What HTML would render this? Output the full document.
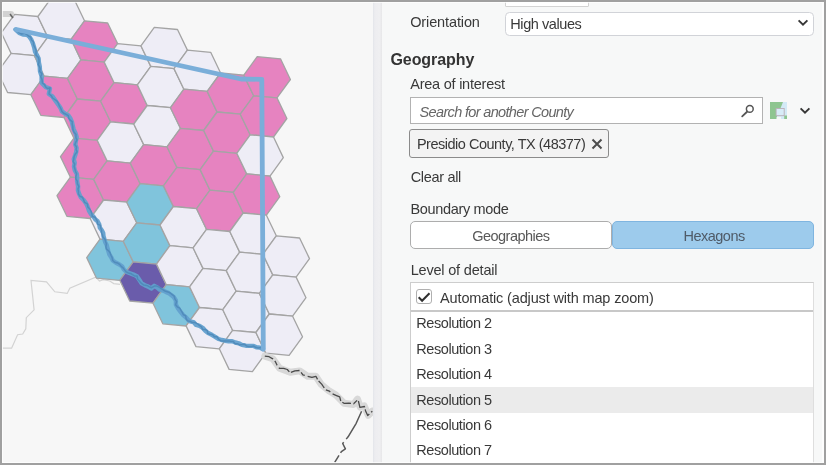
<!DOCTYPE html>
<html><head><meta charset="utf-8"><title>Geography</title>
<style>
html,body{margin:0;padding:0;}
body{width:826px;height:465px;overflow:hidden;position:relative;background:#f7f7f7;font-family:"Liberation Sans",sans-serif;font-size:14.5px;color:#393939;}
#root{position:absolute;left:0;top:0;width:826px;height:465px;overflow:hidden;filter:blur(0.45px);}
.abs{position:absolute;}
.t{position:absolute;white-space:nowrap;line-height:16px;}
#map{position:absolute;left:0;top:0;width:373px;height:465px;overflow:hidden;background:#f7f7f7;}
#div{position:absolute;left:373px;top:0;width:8.8px;height:465px;background:linear-gradient(to right,#e3e5ea 0,#ededf0 22%,#efeff1 72%,#e7e7e9 100%);box-sizing:border-box;}
#panel{position:absolute;left:382px;top:0;width:444px;height:465px;background:#f7f8f8;}
#inner{position:absolute;left:2px;top:2px;width:822px;height:461px;box-sizing:border-box;border:1px solid rgba(255,255,255,0.75);border-right-width:2px;}
#frame{position:absolute;left:0;top:0;width:826px;height:465px;box-sizing:border-box;border:2px solid #a0a0a0;pointer-events:none;}
.box{position:absolute;box-sizing:border-box;background:#fff;border:1px solid #c6c6c6;}
</style></head><body>
<div id="root">
<div id="map">
<svg width="373" height="465" viewBox="0 0 373 465" style="position:absolute;left:0;top:0">
<polyline points="2.6,348.2 11.6,348.2 17.6,334.7 22.7,334.0 25.8,328.8 26.3,317.7 34.1,309.9 31.0,280.5 46.5,281.8 54.8,291.8 67.2,293.4 69.8,288.2 95.6,277.1 99.5,281.0 103.3,279.7 109.8,281.0 113.7,283.6 120.1,284.4" fill="none" stroke="#d3d3d3" stroke-width="1.2"/>
<g stroke="#a4a4a4" stroke-width="1.3" stroke-linejoin="round">
<polygon points="34.4,55.6 11.1,53.4 1.3,32.8 14.6,14.3 37.9,16.5 47.8,37.1" fill="#eeedf6"/>
<polygon points="30.9,94.7 7.6,92.5 -2.3,71.9 11.1,53.4 34.4,55.6 44.3,76.2" fill="#eeedf6"/>
<polygon points="71.1,39.3 47.8,37.1 37.9,16.5 51.3,-2.0 74.6,0.2 84.5,20.8" fill="#eeedf6"/>
<polygon points="67.5,78.4 44.3,76.2 34.4,55.6 47.8,37.1 71.1,39.3 80.9,59.9" fill="#eeedf6"/>
<polygon points="64.0,117.5 40.8,115.3 30.9,94.7 44.3,76.2 67.5,78.4 77.4,99.0" fill="#e683c0"/>
<polygon points="104.2,62.1 80.9,59.9 71.1,39.3 84.5,20.8 107.7,23.0 117.6,43.6" fill="#e683c0"/>
<polygon points="100.7,101.2 77.4,99.0 67.5,78.4 80.9,59.9 104.2,62.1 114.1,82.7" fill="#e683c0"/>
<polygon points="97.2,140.3 73.9,138.1 64.0,117.5 77.4,99.0 100.7,101.2 110.6,121.8" fill="#e683c0"/>
<polygon points="93.7,179.4 70.4,177.2 60.5,156.6 73.9,138.1 97.2,140.3 107.1,160.9" fill="#e683c0"/>
<polygon points="90.2,218.5 66.9,216.3 57.0,195.7 70.4,177.2 93.7,179.4 103.6,200.0" fill="#e683c0"/>
<polygon points="137.4,84.9 114.1,82.7 104.2,62.1 117.6,43.6 140.9,45.8 150.8,66.4" fill="#eeedf6"/>
<polygon points="133.8,124.0 110.6,121.8 100.7,101.2 114.1,82.7 137.4,84.9 147.2,105.5" fill="#e683c0"/>
<polygon points="130.3,163.1 107.1,160.9 97.2,140.3 110.6,121.8 133.8,124.0 143.7,144.6" fill="#eeedf6"/>
<polygon points="126.8,202.2 103.6,200.0 93.7,179.4 107.1,160.9 130.3,163.1 140.2,183.7" fill="#e683c0"/>
<polygon points="123.3,241.3 100.0,239.1 90.2,218.5 103.6,200.0 126.8,202.2 136.7,222.8" fill="#eeedf6"/>
<polygon points="119.8,280.4 96.5,278.2 86.7,257.6 100.0,239.1 123.3,241.3 133.2,261.9" fill="#80c4dc"/>
<polygon points="174.0,68.6 150.8,66.4 140.9,45.8 154.3,27.3 177.5,29.5 187.4,50.1" fill="#eeedf6"/>
<polygon points="170.5,107.7 147.2,105.5 137.4,84.9 150.8,66.4 174.0,68.6 183.9,89.2" fill="#eeedf6"/>
<polygon points="167.0,146.8 143.7,144.6 133.8,124.0 147.2,105.5 170.5,107.7 180.4,128.3" fill="#eeedf6"/>
<polygon points="163.5,185.9 140.2,183.7 130.3,163.1 143.7,144.6 167.0,146.8 176.9,167.4" fill="#e683c0"/>
<polygon points="160.0,225.0 136.7,222.8 126.8,202.2 140.2,183.7 163.5,185.9 173.4,206.5" fill="#80c4dc"/>
<polygon points="156.5,264.1 133.2,261.9 123.3,241.3 136.7,222.8 160.0,225.0 169.9,245.6" fill="#80c4dc"/>
<polygon points="153.0,303.1 129.7,301.0 119.8,280.3 133.2,261.9 156.5,264.1 166.3,284.7" fill="#6a5cab"/>
<polygon points="207.2,91.4 183.9,89.2 174.0,68.6 187.4,50.2 210.7,52.3 220.6,73.0" fill="#eeedf6"/>
<polygon points="203.7,130.5 180.4,128.3 170.5,107.7 183.9,89.2 207.2,91.4 217.0,112.0" fill="#e683c0"/>
<polygon points="200.1,169.6 176.9,167.4 167.0,146.8 180.4,128.3 203.7,130.5 213.5,151.1" fill="#e683c0"/>
<polygon points="196.6,208.7 173.4,206.5 163.5,185.9 176.9,167.4 200.1,169.6 210.0,190.2" fill="#e683c0"/>
<polygon points="193.1,247.8 169.9,245.6 160.0,225.0 173.4,206.5 196.6,208.7 206.5,229.3" fill="#eeedf6"/>
<polygon points="189.6,286.9 166.3,284.7 156.5,264.1 169.9,245.6 193.1,247.8 203.0,268.4" fill="#eeedf6"/>
<polygon points="186.1,326.0 162.8,323.8 153.0,303.2 166.3,284.7 189.6,286.9 199.5,307.5" fill="#80c4dc"/>
<polygon points="240.3,114.2 217.1,112.0 207.2,91.4 220.6,73.0 243.8,75.1 253.7,95.8" fill="#e683c0"/>
<polygon points="236.8,153.3 213.5,151.1 203.7,130.5 217.1,112.0 240.3,114.2 250.2,134.8" fill="#e683c0"/>
<polygon points="233.3,192.4 210.0,190.2 200.2,169.6 213.5,151.1 236.8,153.3 246.7,173.9" fill="#e683c0"/>
<polygon points="229.8,231.5 206.5,229.3 196.6,208.7 210.0,190.2 233.3,192.4 243.2,213.0" fill="#e683c0"/>
<polygon points="226.3,270.6 203.0,268.4 193.1,247.8 206.5,229.3 229.8,231.5 239.7,252.1" fill="#eeedf6"/>
<polygon points="222.8,309.7 199.5,307.5 189.6,286.9 203.0,268.4 226.3,270.6 236.2,291.2" fill="#eeedf6"/>
<polygon points="219.3,348.8 196.0,346.6 186.1,325.9 199.5,307.5 222.8,309.7 232.7,330.3" fill="#eeedf6"/>
<polygon points="277.0,97.9 253.7,95.8 243.8,75.1 257.2,56.7 280.5,58.8 290.4,79.5" fill="#e683c0"/>
<polygon points="273.5,137.0 250.2,134.8 240.3,114.2 253.7,95.8 277.0,97.9 286.9,118.5" fill="#e683c0"/>
<polygon points="270.0,176.1 246.7,173.9 236.8,153.3 250.2,134.8 273.5,137.0 283.3,157.6" fill="#eeedf6"/>
<polygon points="266.4,215.2 243.2,213.0 233.3,192.4 246.7,173.9 270.0,176.1 279.8,196.7" fill="#e683c0"/>
<polygon points="262.9,254.3 239.7,252.1 229.8,231.5 243.2,213.0 266.4,215.2 276.3,235.8" fill="#eeedf6"/>
<polygon points="259.4,293.4 236.2,291.2 226.3,270.6 239.7,252.1 262.9,254.3 272.8,274.9" fill="#eeedf6"/>
<polygon points="255.9,332.5 232.6,330.3 222.8,309.7 236.2,291.2 259.4,293.4 269.3,314.0" fill="#eeedf6"/>
<polygon points="252.4,371.6 229.1,369.4 219.3,348.8 232.6,330.3 255.9,332.5 265.8,353.1" fill="#eeedf6"/>
<polygon points="296.1,277.1 272.8,274.9 262.9,254.3 276.3,235.8 299.6,238.0 309.5,258.6" fill="#eeedf6"/>
<polygon points="292.6,316.2 269.3,314.0 259.4,293.4 272.8,274.9 296.1,277.1 306.0,297.7" fill="#eeedf6"/>
<polygon points="289.1,355.3 265.8,353.1 255.9,332.5 269.3,314.0 292.6,316.2 302.5,336.8" fill="#eeedf6"/>
</g>
<polyline points="2,14 11,14" fill="none" stroke="#d2d2d2" stroke-width="6" stroke-linecap="round"/>
<polyline points="10,14 13,18" fill="none" stroke="#666" stroke-width="1.5"/>
<polyline points="264.8,356.1 272.8,358.8 279.6,368.2 290.3,372.3 299.7,370.9 307.8,376.3 315.9,376.3 321.2,384.4 329.3,391.1 336.0,395.1 344.1,403.2 353.5,404.5 357.5,399.1 360.2,407.2 364.2,405.9 368.3,415.3 372.3,411.2" fill="none" stroke="#d8d8d8" stroke-width="7" stroke-linejoin="round" stroke-linecap="round"/>
<polyline points="264.8,356.1 269.1,356.7 272.8,358.9 275.4,361.7 277.1,365.3 279.4,368.3 283.7,368.3 287.3,369.5 290.1,372.8 294.9,370.8 299.6,370.5 302.9,374.9 307.8,376.3 311.9,377.4 315.9,376.3 318.2,380.6 321.7,384.1 323.6,387.0 325.8,389.8 329.3,391.1 332.3,393.8 335.9,395.3 339.7,396.8 340.8,401.1 344.0,403.3 348.9,403.2 353.6,403.8 358.0,399.4 358.9,403.1 359.9,407.3 364.4,406.5 365.6,410.9 367.7,415.6 372.3,411.2" fill="none" stroke="#4a4a4a" stroke-width="1.3" stroke-linejoin="round" stroke-dasharray="9 2.5 5 3 12 2"/>
<polyline points="361.6,411.2 356.2,423.3 348.1,436.8 342.7,443.5 345.4,448.9 341.4,451.6 334.7,462.3" fill="none" stroke="#585858" stroke-width="1.5" stroke-linejoin="round" stroke-dasharray="32 4 14 3"/>
<polyline points="15.4,29.5 19.2,33.0 22.9,34.5 27.0,34.8 29.5,36.9 31.4,39.7 33.0,43.7 34.3,47.8 35.0,51.6 36.9,55.0 38.6,58.5 38.9,62.5 39.8,66.8 40.0,71.2 41.6,76.4 41.6,79.7 41.7,83.0 45.8,87.2 49.9,88.6 48.8,94.0 52.4,96.4 54.7,99.6 56.9,102.8 59.2,106.0 60.8,108.5 61.9,111.4 65.0,113.6 68.4,115.5 70.5,118.6 71.9,121.8 72.7,125.4 73.6,129.1 75.4,133.0 76.7,137.2 75.9,141.0 75.3,144.6 76.6,148.1 76.2,152.0 75.1,155.5 73.8,159.2 74.7,162.8 74.0,166.5 74.8,170.4 76.8,173.8 77.2,177.5 77.1,181.2 78.1,186.5 77.9,190.2 79.1,193.8 80.7,197.1 83.3,199.7 85.9,203.1 87.7,206.9 89.0,210.9 91.1,214.3 93.4,216.6 95.2,219.2 97.6,221.2 99.2,224.2 99.8,227.6 101.8,230.3 103.2,233.0 103.5,236.2 104.4,239.2 105.2,242.2 106.7,245.0 107.5,248.0 108.3,251.0 109.3,254.4 111.2,257.3 112.8,260.5 116.0,262.7 119.4,264.5 122.2,266.5 123.8,269.5 126.2,271.7 129.9,273.3 133.5,274.6 136.9,276.2 139.3,279.8 141.6,283.4 144.8,285.2 148.2,286.6 151.2,288.5 154.2,285.8 157.2,287.5 159.8,289.7 163.1,290.5 165.8,291.9 168.7,293.1 171.2,295.1 173.7,297.0 175.9,300.4 175.9,304.7 177.5,307.5 179.2,310.2 181.2,312.6 183.2,315.1 185.6,317.1 187.7,319.3 190.0,321.4 193.5,322.1 196.1,324.9 199.5,325.9 202.7,327.8 205.3,330.7 208.2,333.1 211.8,334.8 215.2,336.8 218.5,339.0 221.9,340.0 225.3,340.7 228.7,341.2 232.2,341.3 235.4,342.5 238.8,343.3 241.9,344.9 245.8,345.7 249.7,345.9 253.6,345.9 256.5,347.3 260.0,347.6 263.0,349.2" fill="none" stroke="#62a0cd" stroke-width="4.4" stroke-linejoin="round" stroke-linecap="round" opacity="0.95"/>
<polyline points="15.4,29.5 17.5,31.0 19.3,32.9 21.6,34.1 24.5,33.0 27.0,34.6 28.7,36.1 30.8,37.2 31.4,39.7 33.5,42.0 33.6,45.0 34.9,47.6 36.1,49.9 36.0,52.6 36.1,55.2 38.3,57.2 39.0,59.7 39.0,62.5 38.3,64.7 39.5,66.8 40.2,69.0 39.6,71.3 41.9,73.6 40.7,76.6 42.1,79.7 42.4,83.0 44.5,84.6 45.8,87.2 47.7,88.6 50.1,87.8 49.4,91.1 49.0,94.0 51.2,95.7 52.6,98.0 54.8,99.5 57.0,101.1 58.4,103.3 59.3,105.9 60.8,108.5 61.9,111.4 63.7,113.2 66.1,114.3 68.3,115.7 68.8,118.3 70.2,120.1 72.2,121.6 72.2,124.3 72.8,126.7 72.9,129.2 73.9,132.0 76.0,134.4 75.9,137.5 77.0,139.9 75.8,142.2 74.8,144.5 76.5,146.9 76.1,149.5 77.1,151.8 75.2,154.2 74.1,156.5 73.8,159.2 73.1,161.7 74.7,164.0 74.1,166.5 74.9,169.0 75.6,171.5 76.6,173.9 75.9,176.4 75.9,178.9 77.3,181.2 77.4,183.9 78.9,186.4 78.0,189.0 78.4,191.4 78.4,193.9 79.8,196.2 82.4,197.3 83.5,199.5 84.5,202.3 87.4,203.8 87.8,206.9 89.8,209.0 91.1,211.3 91.9,213.9 92.3,216.5 95.1,217.2 96.3,219.3 97.4,221.4 97.5,224.1 100.5,225.4 100.7,228.0 101.6,230.3 101.5,232.8 102.4,235.0 103.0,237.2 104.9,239.0 105.6,241.4 106.4,243.8 105.9,246.5 106.4,249.0 108.7,250.9 110.2,253.0 111.1,255.5 112.2,257.8 112.7,260.5 114.7,262.2 117.4,262.9 119.6,264.4 121.2,266.4 123.1,267.9 124.6,269.9 126.1,271.8 128.3,272.9 130.6,273.5 132.5,274.7 134.5,275.9 137.1,276.0 137.7,279.3 139.6,281.3 141.5,283.4 143.9,285.1 146.8,285.4 149.1,286.7 151.6,287.7 154.4,286.1 157.0,286.1 159.2,287.2 161.2,288.6 163.3,290.0 165.5,291.3 168.0,291.9 170.2,293.0 172.2,294.6 174.2,296.2 175.0,299.2 176.6,301.6 175.6,304.7 177.3,306.8 179.8,308.2 181.0,310.4 182.3,312.6 183.5,314.8 185.7,315.8 186.1,318.8 187.5,320.7 190.0,321.4 192.4,322.5 195.2,322.6 197.6,323.8 199.6,325.6 201.6,326.8 202.4,329.4 205.3,329.5 207.3,330.7 207.8,333.5 210.2,334.3 212.8,334.7 214.3,336.7 217.1,336.8 218.5,339.0 220.8,340.8 223.4,341.0 226.0,341.1 228.8,340.9 231.0,341.5 233.3,341.6 235.1,343.7 237.5,343.7 239.5,344.9 242.0,344.6 244.3,344.2 246.5,345.9 248.8,346.5 251.2,346.4 253.6,346.0 255.7,347.3 258.1,348.0 260.9,347.6 263.0,349.2" fill="none" stroke="#4a84b4" stroke-width="1.5" stroke-linejoin="round" stroke-linecap="round" opacity="0.75"/>
<polyline points="16.5,29.5 241,79 261.8,79.4 263.3,349" fill="none" stroke="#7aaed9" stroke-width="4.8" stroke-linejoin="round" stroke-linecap="round"/>
</svg>
</div>
<div id="div"></div>
<div id="panel"></div>
<div class="box" style="left:505.3px;top:-10px;width:84px;height:17px;border-radius:1px;border:1.3px solid #d3d3d3"></div>
<div class="t" style="left:410.2px;top:14.1px;letter-spacing:-0.12px;">Orientation</div>
<div class="box" style="left:505.2px;top:11.5px;width:309.3px;height:24.8px;border-radius:4.5px;border:1.8px solid #d1d3d8"></div>
<div class="t" style="left:510.3px;top:15.5px;letter-spacing:-0.43px;">High values</div>
<svg class="abs" style="left:797px;top:18px" width="12" height="10" viewBox="0 0 12 10"><path d="M1.6 2.3 L6 6.7 L10.4 2.3" fill="none" stroke="#363636" stroke-width="1.9"/></svg>
<div class="t" style="left:390.4px;top:52.3px;font-size:16px;font-weight:bold;letter-spacing:-0.05px;color:#333">Geography</div>
<div class="t" style="left:410.2px;top:75.9px;letter-spacing:-0.23px;">Area of interest</div>
<div class="box" style="left:410px;top:97px;width:352.6px;height:27.4px;border:1.3px solid #b2b2b2"></div>
<div class="t" style="left:419.6px;top:103.6px;letter-spacing:-0.66px;font-style:italic;color:#666;">Search for another County</div>
<svg class="abs" style="left:739px;top:102px" width="18" height="18" viewBox="0 0 18 18"><circle cx="10.8" cy="6.9" r="3.4" fill="none" stroke="#555" stroke-width="1.5"/><path d="M8.3 9.5 L3.2 14.3" stroke="#555" stroke-width="1.8" stroke-linecap="round"/></svg>
<svg class="abs" style="left:770.3px;top:101.7px" width="17.2" height="17.2" viewBox="0 0 17.2 17.2"><rect x="0" y="0" width="17.2" height="17.2" fill="#8ec590"/><path d="M13 0 H17.2 V13.6 H14.2 V17.2 H6.6 L7.6 11 L10.2 7 Z" fill="#d3eaf6"/><path d="M6.6 14.8 H11 V17.2 H6.6 Z" fill="#f4f8f6"/><rect x="6.1" y="6.5" width="8.1" height="7.2" fill="#d8ecf8" stroke="#b9adb6" stroke-width="0.9"/></svg>
<svg class="abs" style="left:799px;top:106px" width="12" height="10" viewBox="0 0 12 10"><path d="M1.6 2.3 L6 6.7 L10.4 2.3" fill="none" stroke="#363636" stroke-width="1.9"/></svg>
<div class="box" style="left:409.4px;top:128.8px;width:199.8px;height:28.8px;border:1.8px solid #8b8b8b;background:#f3f3f3;border-radius:3px"></div>
<div class="t" style="left:416.9px;top:136.3px;letter-spacing:-0.49px;">Presidio County, TX (48377)</div>
<svg class="abs" style="left:590.6px;top:138.3px" width="12" height="12" viewBox="0 0 12 12"><path d="M1.5 1.5 L10.5 10.5 M10.5 1.5 L1.5 10.5" stroke="#4d4d4d" stroke-width="2"/></svg>
<div class="t" style="left:410.7px;top:168.5px;letter-spacing:-0.32px;">Clear all</div>
<div class="t" style="left:410.4px;top:201.2px;letter-spacing:-0.32px;">Boundary mode</div>
<div class="box" style="left:409.5px;top:221.3px;width:202.4px;height:28px;border-radius:5px;border:1.6px solid #adadad"></div>
<div class="box" style="left:612.2px;top:221.3px;width:202px;height:28px;border-radius:5px;border:1.4px solid #7fb5e0;background:#9dcbec"></div>
<div class="t" style="left:472.2px;top:228.0px;letter-spacing:-0.51px;color:#585858;">Geographies</div>
<div class="t" style="left:683.5px;top:228.0px;letter-spacing:-0.51px;color:#4f5b68;">Hexagons</div>
<div class="t" style="left:410.7px;top:262.2px;letter-spacing:-0.19px;">Level of detail</div>
<div class="box" style="left:409.6px;top:282.2px;width:404.6px;height:200px;border:1.3px solid #cdcdcd;border-right-color:#dedede"></div>
<div class="abs" style="left:410.6px;top:309.7px;width:402.6px;height:2px;background:#c8c8c8"></div>
<div class="abs" style="left:410.9px;top:387px;width:402px;height:25.5px;background:#ebebeb"></div>
<div class="box" style="left:416.3px;top:288.7px;width:15.7px;height:15.7px;border-radius:3px;border:1.3px solid #b0b0b0"></div>
<svg class="abs" style="left:416.3px;top:288.7px" width="16" height="16" viewBox="0 0 16 16"><path d="M2.7 8.3 L6.1 11.8 L13.5 4.2" fill="none" stroke="#303030" stroke-width="2"/></svg>
<div class="t" style="left:440.1px;top:289.5px;letter-spacing:-0.15px;">Automatic (adjust with map zoom)</div>
<div class="t" style="left:416.3px;top:315.4px;letter-spacing:-0.43px;">Resolution 2</div>
<div class="t" style="left:416.3px;top:340.6px;letter-spacing:-0.43px;">Resolution 3</div>
<div class="t" style="left:416.3px;top:366.0px;letter-spacing:-0.43px;">Resolution 4</div>
<div class="t" style="left:416.3px;top:391.6px;letter-spacing:-0.43px;">Resolution 5</div>
<div class="t" style="left:416.3px;top:417.0px;letter-spacing:-0.43px;">Resolution 6</div>
<div class="t" style="left:416.3px;top:442.1px;letter-spacing:-0.43px;">Resolution 7</div>
</div>
<div id="inner"></div>
<div id="frame"></div>
</body></html>
